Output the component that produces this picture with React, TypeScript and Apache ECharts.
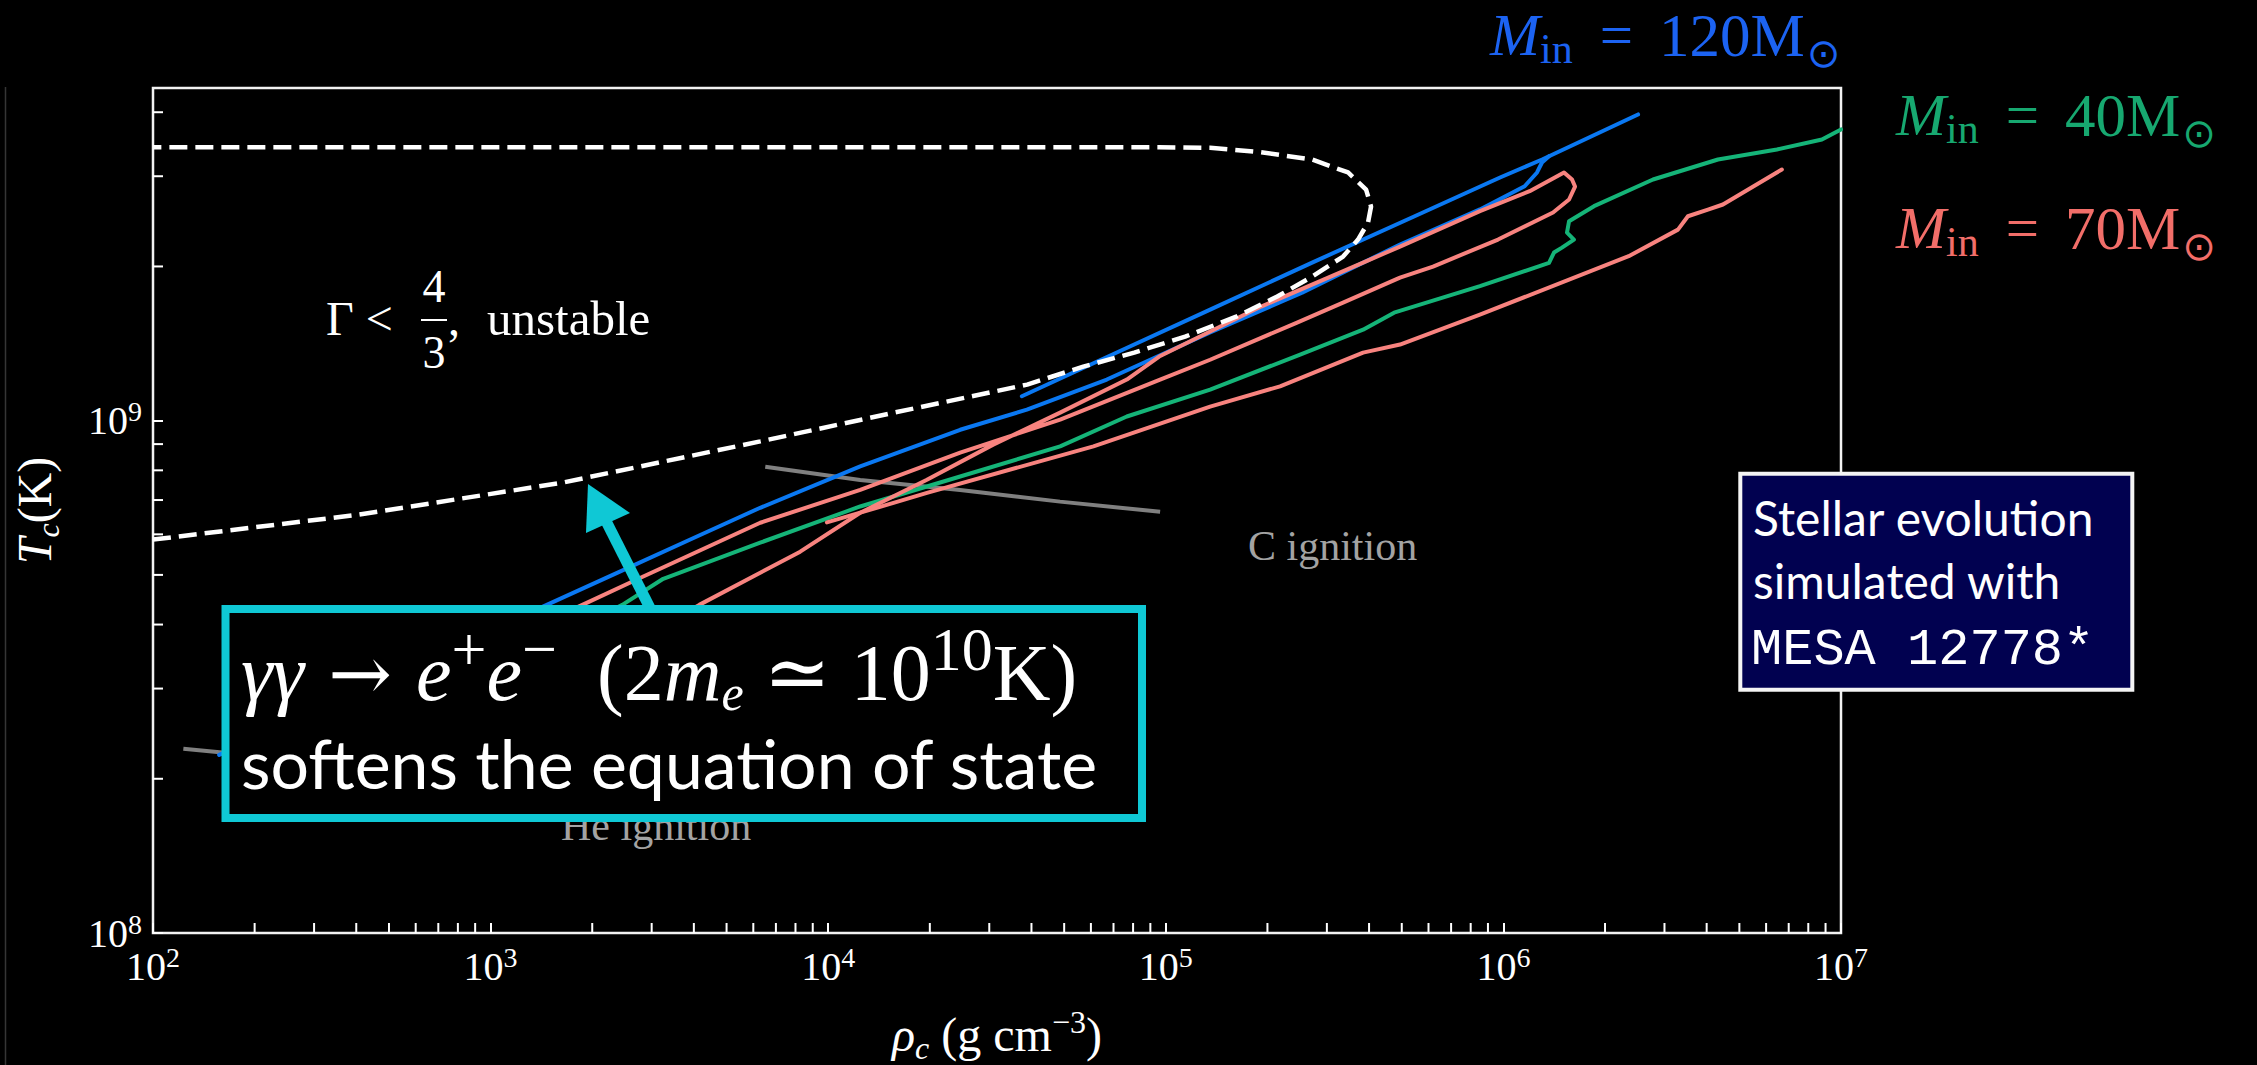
import { useEffect, useRef } from 'react';
import * as echarts from 'echarts';

type Pt = [number, number];

// ---- axis ranges & tick values ----
const X_MIN = 1e2;
const X_MAX = 1e7;
const Y_MIN = 1e8;
const Y_MAX = 4.46e9;
const minorMultipliers = [2, 3, 4, 5, 6, 7, 8, 9];
const xDecades = [1e2, 1e3, 1e4, 1e5, 1e6];
const yDecades = [1e8, 1e9];

// ---- data: [rho_c (g cm^-3), T_c (K)] ----
const gammaBoundary: Pt[] = [
  [100, 5.86e8], [403, 6.55e8], [1618, 7.56e8], [6290, 9.11e8], [15580, 1.036e9],
  [38850, 1.176e9], [56950, 1.275e9], [80620, 1.358e9], [114100, 1.459e9], [161600, 1.596e9],
  [213800, 1.747e9], [271300, 1.911e9], [335000, 2.091e9], [371100, 2.257e9], [397200, 2.436e9],
  [405500, 2.618e9], [392000, 2.826e9], [346700, 3.051e9], [271300, 3.234e9], [191600, 3.342e9],
  [135300, 3.409e9], [95500, 3.418e9], [100, 3.418e9],
];

const blueTrack: Pt[] = [
  [157, 2.227e8], [471, 3.12e8], [1467, 4.37e8], [2300, 5.0e8], [3889, 5.855e8], [6290, 6.76e8],
  [12440, 8.14e8], [24600, 9.6e8], [38770, 1.051e9], [66880, 1.203e9], [135300, 1.486e9],
  [253400, 1.778e9], [494000, 2.207e9], [852000, 2.584e9], [1.156e6, 2.868e9], [1.258e6, 3.051e9],
  [1.301e6, 3.191e9], [1.365e6, 3.283e9],
];

const blueLate: Pt[] = [
  [37460, 1.116e9], [67460, 1.334e9], [135300, 1.647e9], [271300, 2.035e9], [543800, 2.503e9],
  [977500, 2.983e9], [1.302e6, 3.234e9], [2.505e6, 3.96e9],
];

const pinkTrack: Pt[] = [
  [335, 2.596e8], [1870, 4.37e8], [2740, 4.914e8], [6290, 6.32e8], [12440, 7.33e8], [24600, 8.66e8],
  [48640, 1.005e9], [96180, 1.203e9], [135300, 1.315e9], [244800, 1.554e9], [335000, 1.70e9],
  [494000, 1.902e9], [618800, 1.999e9], [964000, 2.257e9], [1.403e6, 2.549e9], [1.565e6, 2.702e9],
  [1.630e6, 2.864e9], [1.597e6, 2.956e9], [1.512e6, 3.051e9],
  [1.196e6, 2.805e9], [852000, 2.564e9], [494000, 2.187e9], [384000, 2.035e9], [191600, 1.67e9],
  [95600, 1.334e9], [76650, 1.203e9], [48640, 1.037e9], [30810, 8.98e8], [19610, 7.67e8],
  [12440, 6.61e8], [8262, 5.55e8], [6290, 5.05e8], [4150, 4.37e8], [2423, 3.57e8],
];

const pinkLate: Pt[] = [
  [9913, 6.33e8], [15610, 6.91e8], [19610, 7.23e8], [61050, 8.91e8], [135300, 1.065e9],
  [218000, 1.167e9], [384000, 1.358e9], [494000, 1.408e9], [852000, 1.611e9], [2.35e6, 2.094e9],
  [3.289e6, 2.36e9], [3.52e6, 2.506e9], [4.035e6, 2.582e9], [4.47e6, 2.642e9], [6.68e6, 3.092e9],
];

const greenTrack: Pt[] = [
  [540, 2.606e8], [2455, 4.37e8], [3246, 4.914e8], [6290, 5.78e8], [12440, 6.8e8], [24600, 7.78e8],
  [48640, 8.91e8], [76650, 1.019e9], [135300, 1.15e9], [250000, 1.346e9], [384000, 1.505e9],
  [474400, 1.625e9], [852000, 1.83e9], [1.365e6, 2.032e9], [1.412e6, 2.129e9], [1.491e6, 2.177e9],
  [1.618e6, 2.257e9], [1.543e6, 2.329e9], [1.565e6, 2.451e9], [1.855e6, 2.622e9], [2.774e6, 2.956e9],
  [4.32e6, 3.234e9], [6.46e6, 3.383e9], [8.78e6, 3.538e9], [1e7, 3.702e9],
];

const cIgnition: Pt[] = [[6510, 8.13e8], [12440, 7.66e8], [24600, 7.32e8], [48600, 6.95e8], [96200, 6.64e8]];
const heIgnition: Pt[] = [[123, 2.29e8], [400, 2.12e8], [1500, 1.97e8], [4000, 1.88e8]];

// ---- texts ----
const legendMasses = ['120', '40', '70'];
const cyanLine1 = '{mi|γγ}{ar| → }{mi|e}{sup|+}{mi|e}{sup|−}{rm|  (2}{mi|m}{sub|e}{rm| ≃ 10}{sup|10}{rm|K)}';
const cyanLine2 = 'softens the equation of state';
const mesaLines = ['Stellar evolution', 'simulated with', 'MESA 12778*'];

const SERIF = '"Liberation Serif", "DejaVu Serif", serif';
const SANS = 'Lato, "Noto Sans", "DejaVu Sans", sans-serif';
const MONO = '"Liberation Mono", "DejaVu Sans Mono", monospace';

const BLUE = '#0a78f2';
const GREEN = '#15b478';
const PINK = '#f8837f';
const BLUE_TXT = '#1c63f2';
const GREEN_TXT = '#17a870';
const PINK_TXT = '#f26e69';
const CYAN = '#0fc8d5';
const GRAY = '#808080';
const GRAY_TXT = '#a3a3a3';

function lineSeries(name: string, data: Pt[], color: string, extra: any = {}) {
  return {
    type: 'line',
    name,
    data,
    symbol: 'none',
    showSymbol: false,
    smooth: false,
    silent: true,
    lineStyle: { color, width: 4, cap: 'round', join: 'round' },
    z: 2,
    ...extra,
  };
}

function txt(x: number, y: number, text: string, style: any, z = 20) {
  const align = style.align || 'left';
  return {
    type: 'text',
    x,
    y,
    z,
    silent: true,
    style: {
      text,
      fill: '#fff',
      fontFamily: SERIF,
      fontSize: 40,
      textAlign: align,
      align,
      textVerticalAlign: 'middle',
      verticalAlign: 'middle',
      ...style,
    },
  };
}

function legendRich(color: string) {
  return {
    it: { fontStyle: 'italic', fontSize: 60, fontFamily: SERIF, fill: color },
    sub: { fontSize: 42, fontFamily: SERIF, fill: color, padding: [28, 0, 0, 0] },
    eq: { fontSize: 59, fontFamily: SERIF, fill: color, padding: [0, 26, 0, 27] },
    rm: { fontSize: 61, fontFamily: SERIF, fill: color },
    odot: { fontSize: 40, fontFamily: '"DejaVu Sans", sans-serif', fill: color, padding: [36, 0, 0, 2] },
  };
}

export default function App() {
  const ref = useRef<HTMLDivElement>(null);

  useEffect(() => {
    document.body.style.margin = '0';
    document.body.style.background = '#000';
    const chart = echarts.init(ref.current as HTMLDivElement, null, { renderer: 'svg' });

    const xMinor: Pt[] = [];
    xDecades.forEach((d) => minorMultipliers.forEach((m) => xMinor.push([d * m, Y_MIN])));
    const yMinor: Pt[] = [];
    yDecades.forEach((d) =>
      minorMultipliers.forEach((m) => {
        if (d * m < Y_MAX) yMinor.push([X_MIN, d * m]);
      })
    );

    const tickRender = (vertical: boolean) => (_p: any, api: any) => {
      const c = api.coord([api.value(0), api.value(1)]);
      return {
        type: 'line',
        shape: vertical
          ? { x1: c[0], y1: c[1], x2: c[0], y2: c[1] - 10 }
          : { x1: c[0], y1: c[1], x2: c[0] + 10, y2: c[1] },
        style: { stroke: '#fff', lineWidth: 2 },
      };
    };

    const supFmt = (v: number) => {
      const e = Math.log10(v);
      if (Math.abs(e - Math.round(e)) > 0.01) return '';
      return '10{sup|' + Math.round(e) + '}';
    };
    const labelRich = { sup: { fontSize: 28, fontFamily: SERIF, color: '#fff', padding: [0, 0, 18, 0] } };
    const nameRich = {
      i: { fontStyle: 'italic', fontSize: 48, fontFamily: SERIF, color: '#fff' },
      sub: { fontStyle: 'italic', fontSize: 32, fontFamily: SERIF, color: '#fff', padding: [28, 0, 0, 0] },
      sup: { fontSize: 32, fontFamily: SERIF, color: '#fff', padding: [0, 0, 24, 0] },
    };

    const legendTexts = [
      { x: 1490, y: 35, color: BLUE_TXT, mass: legendMasses[0] },
      { x: 1896, y: 115, color: GREEN_TXT, mass: legendMasses[1] },
      { x: 1896, y: 228, color: PINK_TXT, mass: legendMasses[2] },
    ];

    const option: any = {
      animation: false,
      backgroundColor: '#000',
      grid: {
        left: 153, right: 416, top: 88, bottom: 132,
        show: true, borderColor: '#f2f2f2', borderWidth: 2.5,
        outerBoundsMode: 'none',
      },
      xAxis: {
        type: 'log', logBase: 10, min: X_MIN, max: X_MAX,
        axisLine: { show: false },
        axisTick: { show: true, inside: true, length: 10, lineStyle: { color: '#fff', width: 2 } },
        splitLine: { show: false },
        axisLabel: { margin: 10, color: '#fff', fontFamily: SERIF, fontSize: 40, formatter: supFmt, rich: labelRich },
        name: '{i|ρ}{sub|c} (g cm{sup|−3})',
        nameLocation: 'middle', nameGap: 71, nameMoveOverlap: false,
        nameTextStyle: { color: '#fff', fontFamily: SERIF, fontSize: 48, rich: nameRich },
      },
      yAxis: {
        type: 'log', logBase: 10, min: Y_MIN, max: Y_MAX,
        axisLine: { show: false },
        axisTick: { show: true, inside: true, length: 10, lineStyle: { color: '#fff', width: 2 } },
        splitLine: { show: false },
        axisLabel: { margin: 11, color: '#fff', fontFamily: SERIF, fontSize: 40, formatter: supFmt, rich: labelRich, showMaxLabel: false },
        name: '{i|T}{sub|c}(K)',
        nameLocation: 'middle', nameGap: 89, nameRotate: 90, nameMoveOverlap: false,
        nameTextStyle: { color: '#fff', fontFamily: SERIF, fontSize: 48, rich: nameRich },
      },
      series: [
        { type: 'custom', data: xMinor, renderItem: tickRender(true), silent: true, clip: false, z: 3 },
        { type: 'custom', data: yMinor, renderItem: tickRender(false), silent: true, clip: false, z: 3 },
        lineSeries('He ignition', heIgnition, GRAY, { lineStyle: { color: GRAY, width: 4 } }),
        lineSeries('C ignition', cIgnition, GRAY, { lineStyle: { color: GRAY, width: 4 } }),
        lineSeries('M120', blueTrack, BLUE),
        lineSeries('M120 late', blueLate, BLUE),
        lineSeries('M40', greenTrack, GREEN),
        lineSeries('M70', pinkTrack, PINK),
        lineSeries('M70 late', pinkLate, PINK),
        lineSeries('Gamma 4/3', gammaBoundary, '#fff', {
          lineStyle: { color: '#fff', width: 4.5, type: [18, 8], cap: 'butt' },
          z: 4,
        }),
      ],
      graphic: {
        elements: [
          { type: 'line', z: 1, silent: true, shape: { x1: 5.5, y1: 87, x2: 5.5, y2: 1065 }, style: { stroke: '#353535', lineWidth: 1.5 } },
          // Gamma < 4/3 annotation
          txt(326, 318, 'Γ <', { fontSize: 48 }),
          txt(434, 286, '4', { fontSize: 46, align: 'center' }),
          { type: 'line', z: 20, silent: true, shape: { x1: 421, y1: 320, x2: 447, y2: 320 }, style: { stroke: '#fff', lineWidth: 2 } },
          txt(434, 352, '3', { fontSize: 46, align: 'center' }),
          txt(448, 318, ',', { fontSize: 48 }),
          txt(487, 318, 'unstable', { fontSize: 49 }),
          // ignition labels
          txt(1248, 546, 'C ignition', { fontSize: 42, fill: GRAY_TXT }),
          txt(561, 826, 'He ignition', { fontSize: 42, fill: GRAY_TXT }),
          // legend labels
          ...legendTexts.map((l) =>
            txt(l.x, l.y, '{it|M}{sub|in}{eq|=}{rm|' + l.mass + 'M}{odot|⊙}', { fontSize: 60, fill: l.color, rich: legendRich(l.color) })
          ),
          // cyan annotation box
          { type: 'line', z: 99, silent: true, shape: { x1: 650, y1: 608, x2: 606, y2: 521 }, style: { stroke: CYAN, lineWidth: 11 } },
          { type: 'polygon', z: 99, silent: true, shape: { points: [[588, 484], [586, 533], [630, 513]] }, style: { fill: CYAN } },
          { type: 'rect', z: 100, silent: true, shape: { x: 225.5, y: 609, width: 916.5, height: 209 }, style: { fill: '#000', stroke: CYAN, lineWidth: 8 } },
          txt(241, 673, cyanLine1, {
            fontSize: 80,
            rich: {
              mi: { fontStyle: 'italic', fontSize: 80, fontFamily: SERIF, fill: '#fff' },
              rm: { fontSize: 80, fontFamily: SERIF, fill: '#fff' },
              ar: { fontSize: 76, fontFamily: '"DejaVu Serif", serif', fill: '#fff' },
              sup: { fontSize: 62, fontFamily: SERIF, fill: '#fff', padding: [0, 0, 48, 0] },
              sub: { fontStyle: 'italic', fontSize: 50, fontFamily: SERIF, fill: '#fff', padding: [40, 0, 0, 0] },
            },
          }, 101),
          txt(241, 762, cyanLine2, { fontSize: 68, fontFamily: SANS }, 101),
          // MESA box
          { type: 'rect', z: 100, silent: true, shape: { x: 1740.3, y: 473.7, width: 392, height: 216 }, style: { fill: '#010150', stroke: '#f4f4f4', lineWidth: 4 } },
          txt(1753, 517, mesaLines[0], { fontSize: 48, fontFamily: SANS }, 101),
          txt(1753, 580, mesaLines[1], { fontSize: 48, fontFamily: SANS }, 101),
          txt(1751, 650, mesaLines[2], { fontSize: 52, fontFamily: MONO }, 101),
        ],
      },
    };

    chart.setOption(option);
    return () => chart.dispose();
  }, []);

  return <div ref={ref} style={{ width: 2257, height: 1065, background: '#000' }} />;
}
